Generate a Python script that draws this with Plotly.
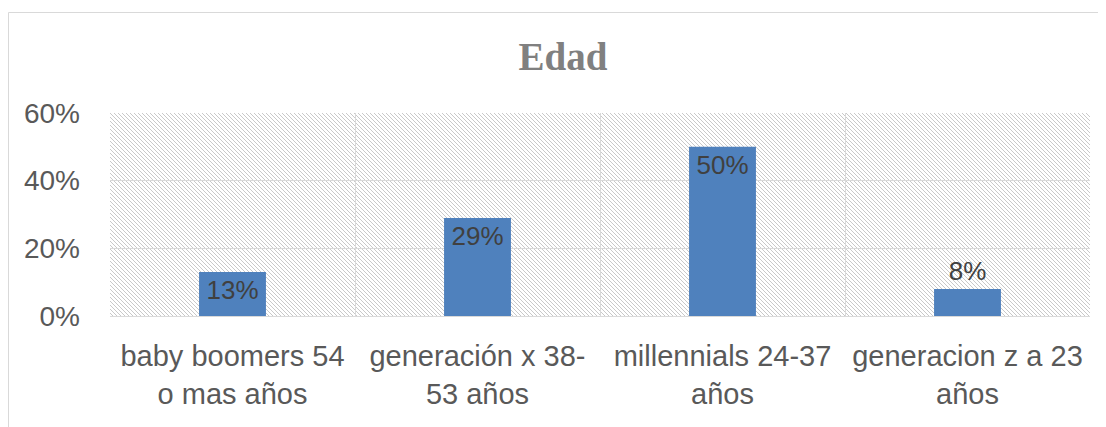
import base64
import plotly.graph_objects as go

categories = ["baby boomers 54<br>o mas años", "generación x 38-<br>53 años",
              "millennials 24-37<br>años", "generacion z a 23<br>años"]
values = [0.13, 0.29, 0.50, 0.08]
label_positions = ["inside", "inside", "inside", "outside"]
title_text = "Edad"

W, H = 1098, 419
ML, MR, MT, MB = 102, 16, 105, 111
PW, PH = W - ML - MR, H - MT - MB

tile = "".join(f'<rect x="{i}" y="{i}" width="1" height="1" fill="#c9c9c9"/>' for i in range(4))
svg = f'''<svg xmlns="http://www.w3.org/2000/svg" width="{PW}" height="{PH}" viewBox="0 0 {PW} {PH}" shape-rendering="crispEdges">
<defs><pattern id="p" width="4" height="4" patternUnits="userSpaceOnUse">{tile}</pattern></defs>
<rect x="0" y="0" width="{PW}" height="{PH}" fill="white"/>
<rect x="0" y="0" width="{PW}" height="{PH}" fill="url(#p)"/>
</svg>'''
src = "data:image/svg+xml;base64," + base64.b64encode(svg.encode()).decode()

fig = go.Figure()
fig.add_trace(go.Bar(
    x=categories, y=values, width=0.273,
    marker=dict(color="#4f81bd", line=dict(width=0)),
    texttemplate="%{y:.0%}", textposition=label_positions, insidetextanchor="end",
    constraintext="none", textangle=0,
    textfont=dict(family="Liberation Sans", size=26, color="#404040"),
    outsidetextfont=dict(family="Liberation Sans", size=26, color="#404040"),
    cliponaxis=False,
))

fig.update_layout(
    width=W, height=H,
    margin=dict(l=ML, r=MR, t=MT, b=MB),
    paper_bgcolor="white", plot_bgcolor="rgba(0,0,0,0)",
    showlegend=False,
    title=dict(text=f"<b>{title_text}</b>", x=(563 - 8) / W, xanchor="center",
               y=1 - 48 / H, yanchor="middle", yref="container",
               font=dict(family="Liberation Serif", size=39, color="#808080")),
    images=[dict(source=src, xref="paper", yref="paper", x=0, y=1,
                 sizex=1, sizey=1, sizing="stretch", layer="below",
                 xanchor="left", yanchor="top")],
    shapes=[dict(type="rect", xref="paper", yref="paper",
                 x0=(0.5 - ML) / PW, x1=1.2, y0=-2, y1=(H - MB - 4.5) / PH,
                 line=dict(color="#d9d9d9", width=1), fillcolor="rgba(0,0,0,0)",
                 layer="below")],
    xaxis=dict(showgrid=True, gridcolor="#d9d9d9", gridwidth=1,
               tickson="boundaries", ticks="", showline=True,
               linecolor="#d9d9d9", linewidth=1, mirror=False,
               tickfont=dict(family="Liberation Sans", size=29, color="#595959"),
               ticklabelstandoff=14),
    yaxis=dict(range=[0, 0.6], dtick=0.2, tickformat=".0%",
               showgrid=True, gridcolor="#d9d9d9", gridwidth=1,
               zeroline=False, showline=False, ticks="",
               tickfont=dict(family="Liberation Sans", size=28, color="#595959"),
               ticklabelstandoff=29),
)

fig.write_html("out.html")
